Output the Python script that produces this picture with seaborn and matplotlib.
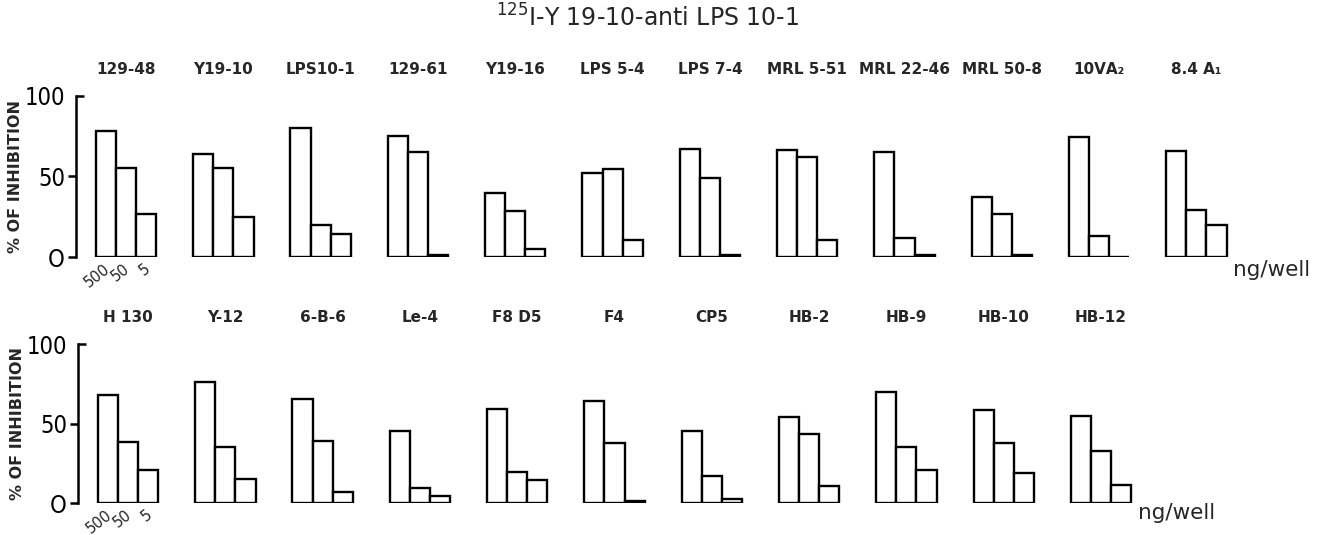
import pandas as pd
import matplotlib
matplotlib.use("Agg")
import matplotlib.pyplot as plt
import matplotlib.lines as mlines
import seaborn as sns

# nồng độ (ng/well)
doses = ["500", "50", "5"]

# hàng trên
top_names = ["129-48", "Y19-10", "LPS10-1", "129-61", "Y19-16", "LPS 5-4",
             "LPS 7-4", "MRL 5-51", "MRL 22-46", "MRL 50-8", "10ⅤA₂", "8.4 A₁"]
top_500 = [78.5, 64, 80, 75, 40, 52, 67, 66.5, 65.5, 37.5, 74.5, 66]
top_50 = [55.5, 55, 20, 65.5, 28.5, 54.5, 49, 62, 11.5, 27, 13, 29]
top_5 = [26.5, 25, 14, 1.5, 5, 10.5, 1.5, 10.5, 1.5, 1.5, 0, 20]

# hàng dưới
bot_names = ["H 130", "Y-12", "6-B-6", "Le-4", "F8 D5", "F4", "CP5",
             "HB-2", "HB-9", "HB-10", "HB-12"]
bot_500 = [68, 76, 65.5, 45, 59, 64, 45, 54, 70, 58.5, 54.5]
bot_50 = [38.5, 35, 39, 9.5, 19.5, 38, 17, 43.5, 35.5, 38, 33]
bot_5 = [21, 15, 7, 4.5, 14.5, 1.5, 2.5, 11, 20.5, 19, 11.5]

sns.set_theme(style="white")
plt.rcParams["font.family"] = ["DejaVu Sans"]


def make_df(names, v500, v50, v5):
    n = len(names)
    return pd.DataFrame({
        "antibody": names * 3,
        "dose": [doses[0]] * n + [doses[1]] * n + [doses[2]] * n,
        "inhibition": v500 + v50 + v5,
    })


def draw_row(ax, names, v500, v50, v5, ng_y):
    df = make_df(names, v500, v50, v5)
    sns.barplot(data=df, x="antibody", y="inhibition", hue="dose",
                order=names, hue_order=doses, palette=["white"] * 3,
                edgecolor="black", linewidth=1.7, width=0.62,
                errorbar=None, legend=False, ax=ax)
    ax.set_xlim(-0.514, 12.2)
    ax.set_ylim(0, 100)
    sns.despine(ax=ax, bottom=True)
    ax.spines["left"].set_linewidth(1.8)
    ax.spines["left"].set_color("black")
    ax.set_yticks([0, 50, 100])
    ax.set_yticklabels(["O", "50", "100"], fontsize=17, fontstretch="condensed")
    ax.tick_params(axis="y", direction="out", length=6, width=1.8,
                   pad=2, colors="black", left=True)
    ax.tick_params(axis="x", top=True, labeltop=True, bottom=False,
                   labelbottom=False, length=0, pad=14)
    ax.set_xticks(range(len(names)))
    ax.set_xticklabels(names, fontsize=11, fontweight="bold")
    ax.set_xlabel("")
    ax.set_ylabel("% OF INHIBITION", fontsize=11.5, fontweight="bold")
    ax.yaxis.set_label_coords(-0.0428, 0.5)
    # vạch 100 hướng vào trong
    ax.yaxis.get_major_ticks()[-1].tick1line.set_marker(mlines.TICKRIGHT)

    # nhãn liều dưới nhóm đầu tiên
    for i, cont in enumerate(ax.containers):
        bar = cont[0]
        xc = bar.get_x() + bar.get_width() / 2
        ax.text(xc - 0.03, -2.5, doses[i], rotation=38, rotation_mode="anchor",
                ha="right", va="top", fontsize=10.5, clip_on=False)

    ax.text(len(names) - 1 + 0.38, ng_y, "ng/well", fontsize=15.5,
            ha="left", va="center", clip_on=False)


fig = plt.figure(figsize=(13.18, 5.35), dpi=100)
ax_top = fig.add_axes([0.0577, 0.5196, 0.9386, 0.3010])
ax_bot = fig.add_axes([0.0592, 0.0598, 0.9386, 0.2972])

draw_row(ax_top, top_names, top_500, top_50, top_5, -8)
draw_row(ax_bot, bot_names, bot_500, bot_50, bot_5, -6.5)

fig.text(0.491, 1 - 18 / 535, r"$^{125}$I-Y 19-10-anti LPS 10-1",
         fontsize=17, ha="center", va="center")

fig.savefig("out.png", dpi=100)
